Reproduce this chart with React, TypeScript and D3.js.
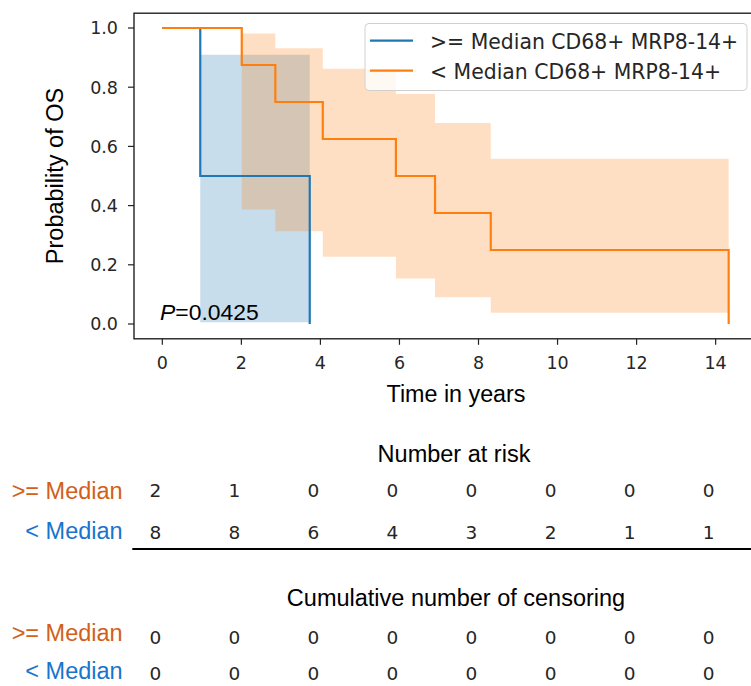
import React from "react";
import * as d3 from "d3";

// ---- data ----
const highTimes = [0, 0.96, 3.73];
const highSurv = [1.0, 0.5, 0.0];
const highLower = [1.0, 0.006, 0.006];
const highUpper = [1.0, 0.91, 0.91];

const lowTimes = [0, 2.01, 2.86, 4.06, 5.91, 6.9, 8.31, 14.33];
const lowSurv = [1.0, 0.875, 0.75, 0.625, 0.5, 0.375, 0.25, 0.0];
const lowLower = [1.0, 0.387, 0.313, 0.227, 0.154, 0.09, 0.038, 0.038];
const lowUpper = [1.0, 0.981, 0.932, 0.862, 0.777, 0.679, 0.558, 0.558];

const xTicks = [0, 2, 4, 6, 8, 10, 12, 14];
const yTicks = [0.0, 0.2, 0.4, 0.6, 0.8, 1.0];

const riskHigh = [2, 1, 0, 0, 0, 0, 0, 0];
const riskLow = [8, 8, 6, 4, 3, 2, 1, 1];
const censHigh = [0, 0, 0, 0, 0, 0, 0, 0];
const censLow = [0, 0, 0, 0, 0, 0, 0, 0];

const legendLabels = [">= Median CD68+ MRP8-14+", "< Median CD68+ MRP8-14+"];
const rowLabels = [">= Median", "< Median"];
const pValue = "0.0425";

const BLUE = "#1f77b4";
const ORANGE = "#ff7f0e";
const LBL_ORANGE = "#d2601a";
const LBL_BLUE = "#1874cd";
const DEJAVU = "'DejaVu Sans', sans-serif";
const ARIAL = "'Liberation Sans', Arial, sans-serif";

export default function App() {
  const W = 751, H = 686;
  const x = d3.scaleLinear().domain([-0.7165, 15.0465]).range([134, 757]);
  const y = d3.scaleLinear().domain([-0.05, 1.05]).range([338.8, 13.2]);

  const line = (ts: number[], ss: number[]) =>
    d3.line<number>().x((_, i) => x(ts[i])).y((_, i) => y(ss[i])).curve(d3.curveStepAfter)(ts) || "";
  const area = (ts: number[], lo: number[], hi: number[]) =>
    d3
      .area<number>()
      .x((_, i) => x(ts[i]))
      .y0((_, i) => y(lo[i]))
      .y1((_, i) => y(hi[i]))
      .curve(d3.curveStepAfter)(ts) || "";

  const [x0, x1] = x.range();
  const [yb, yt] = y.range();
  const colX = (t: number) => x(t) - 7;

  return (
    <svg width={W} height={H} style={{ position: "absolute", left: 0, top: 0, background: "#fff" }}>
      <defs>
        <clipPath id="plotclip">
          <rect x={x0} y={yt} width={x1 - x0} height={yb - yt} />
        </clipPath>
      </defs>
      <g clipPath="url(#plotclip)">
        <path d={area(highTimes, highLower, highUpper)} fill={BLUE} fillOpacity={0.25} />
        <path d={area(lowTimes, lowLower, lowUpper)} fill={ORANGE} fillOpacity={0.25} />
        <path d={line(highTimes, highSurv)} fill="none" stroke={BLUE} strokeWidth={2.2} />
        <path d={line(lowTimes, lowSurv)} fill="none" stroke={ORANGE} strokeWidth={2.2} />
      </g>
      {/* spines */}
      <rect x={x0} y={yt} width={x1 - x0} height={yb - yt} fill="none" stroke="#222" strokeWidth={1.4} />
      {/* y ticks */}
      {yTicks.map((v) => (
        <g key={"y" + v}>
          <line x1={x0 - 6} x2={x0} y1={y(v)} y2={y(v)} stroke="#222" strokeWidth={1.2} />
          <text x={x0 - 16} y={y(v)} dy="0.36em" textAnchor="end" fontFamily={DEJAVU} fontSize={17.5} fill="#262626">
            {v.toFixed(1)}
          </text>
        </g>
      ))}
      {/* x ticks */}
      {xTicks.map((v) => (
        <g key={"x" + v}>
          <line x1={x(v)} x2={x(v)} y1={yb} y2={yb + 6} stroke="#222" strokeWidth={1.2} />
          <text x={x(v)} y={369} textAnchor="middle" fontFamily={DEJAVU} fontSize={17.5} fill="#262626">
            {v}
          </text>
        </g>
      ))}
      <text x={456} y={402} textAnchor="middle" fontFamily={ARIAL} fontSize={23.3} fill="#000">
        Time in years
      </text>
      <text
        transform={`translate(63,${(yt + yb) / 2}) rotate(-90)`}
        textAnchor="middle"
        fontFamily={ARIAL}
        fontSize={23.5}
        fill="#000"
      >
        Probability of OS
      </text>
      <text x={160} y={319.5} fontFamily={ARIAL} fontSize={22.9} fill="#000">
        <tspan fontStyle="italic">P</tspan>={pValue}
      </text>
      {/* legend */}
      <rect x={365} y={23.5} width={382} height={67} rx={4} fill="#fff" fillOpacity={0.8} stroke="#d0d0d0" strokeWidth={1} />
      {legendLabels.map((l, i) => (
        <g key={l}>
          <line x1={370} x2={413} y1={40.7 + i * 30} y2={40.7 + i * 30} stroke={i === 0 ? BLUE : ORANGE} strokeWidth={2.2} />
          <text x={430} y={49.3 + i * 30} fontFamily={DEJAVU} fontSize={20.4} fill="#262626">
            {l}
          </text>
        </g>
      ))}
      {/* risk table */}
      <text x={454} y={461.5} textAnchor="middle" fontFamily={ARIAL} fontSize={23.5} fill="#000">
        Number at risk
      </text>
      <text x={122.7} y={499.3} textAnchor="end" fontFamily={ARIAL} fontSize={23.5} fill={LBL_ORANGE}>
        {rowLabels[0]}
      </text>
      <text x={122.7} y={539} textAnchor="end" fontFamily={ARIAL} fontSize={23.5} fill={LBL_BLUE}>
        {rowLabels[1]}
      </text>
      {xTicks.map((t, i) => (
        <g key={"r" + t}>
          <text x={colX(t)} y={497} textAnchor="middle" fontFamily={DEJAVU} fontSize={18.5} fill="#262626">
            {riskHigh[i]}
          </text>
          <text x={colX(t)} y={539} textAnchor="middle" fontFamily={DEJAVU} fontSize={18.5} fill="#262626">
            {riskLow[i]}
          </text>
        </g>
      ))}
      <line x1={132.3} x2={751} y1={549} y2={549} stroke="#000" strokeWidth={2} />
      <text x={456} y={605.7} textAnchor="middle" fontFamily={ARIAL} fontSize={23.5} fill="#000">
        Cumulative number of censoring
      </text>
      <text x={122.7} y={640.7} textAnchor="end" fontFamily={ARIAL} fontSize={23.5} fill={LBL_ORANGE}>
        {rowLabels[0]}
      </text>
      <text x={122.7} y={679.3} textAnchor="end" fontFamily={ARIAL} fontSize={23.5} fill={LBL_BLUE}>
        {rowLabels[1]}
      </text>
      {xTicks.map((t, i) => (
        <g key={"c" + t}>
          <text x={colX(t)} y={644} textAnchor="middle" fontFamily={DEJAVU} fontSize={18.5} fill="#262626">
            {censHigh[i]}
          </text>
          <text x={colX(t)} y={680} textAnchor="middle" fontFamily={DEJAVU} fontSize={18.5} fill="#262626">
            {censLow[i]}
          </text>
        </g>
      ))}
    </svg>
  );
}
